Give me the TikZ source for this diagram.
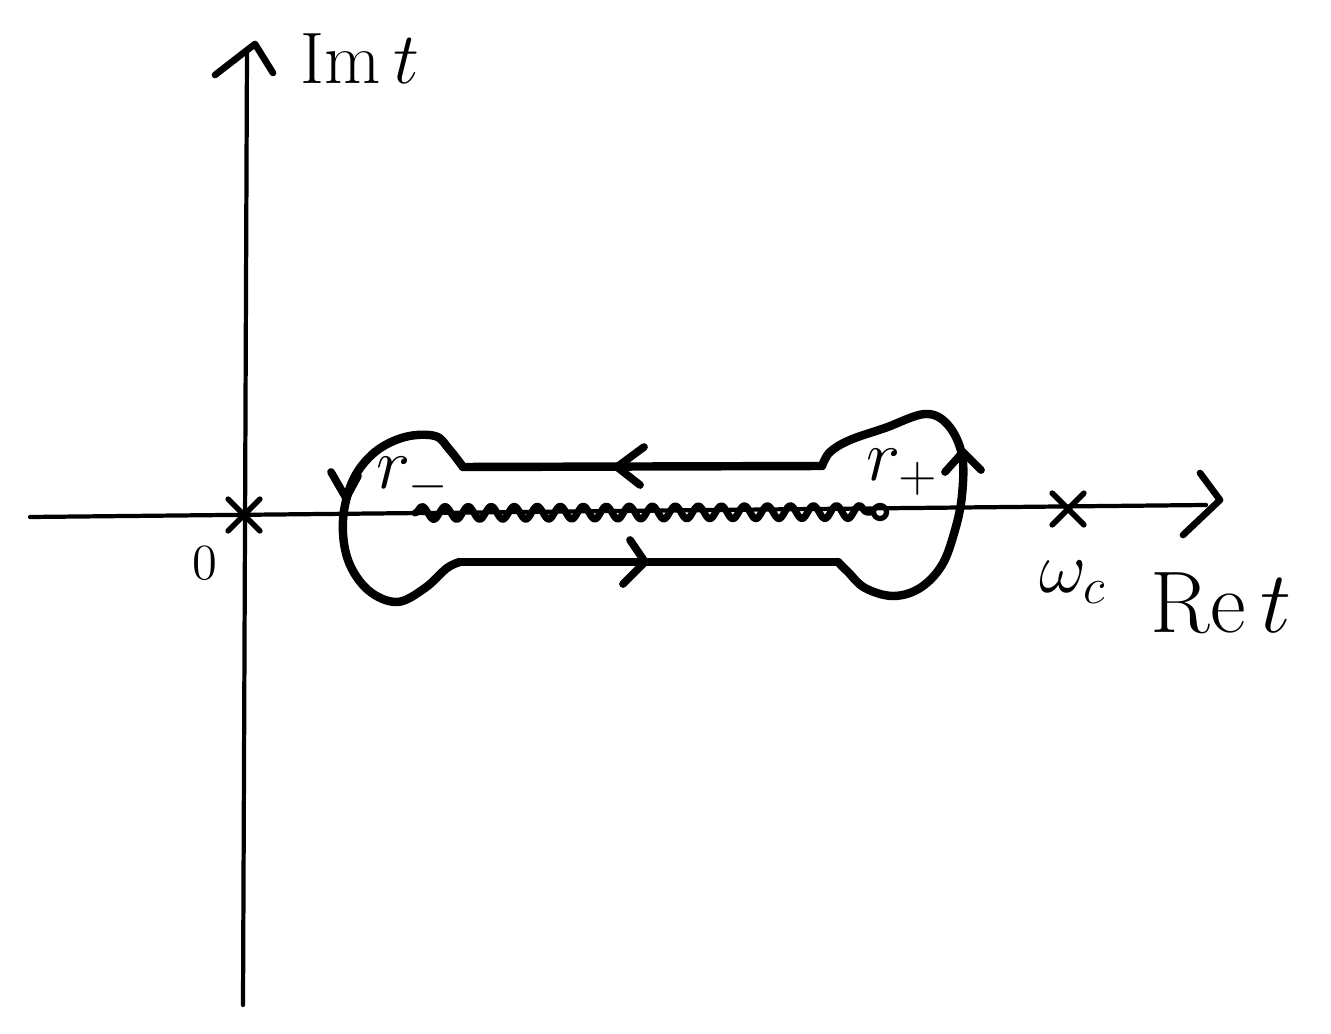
\documentclass[tikz,border=0pt]{standalone}
\usetikzlibrary{arrows.meta,positioning,calc,shapes.misc,decorations.pathmorphing}

\begin{document}
\begin{tikzpicture}[
    x=0.01cm, y=-0.01cm,
    line cap=round,
    line join=round,
    axis/.style={line width=1.2pt},
    head/.style={line width=1.9pt},
    contour/.style={line width=2.4pt},
    barb/.style={line width=2.2pt},
    cut/.style={line width=2pt, decorate,
        decoration={snake, segment length=0.23cm, amplitude=0.065cm}},
    cross/.style={cross out, draw, line width=1.6pt, minimum size=0.26cm, inner sep=0pt},
    lbl/.style={inner sep=0pt, font=\fontsize{20}{24}\selectfont}
]
\useasboundingbox (0,0) rectangle (1331,1034);

% ------------------------
% Axes
% ------------------------
\coordinate (imfoot) at (243,1005);
\coordinate (imtip) at (247,50);
\coordinate (reback) at (30,517);
\coordinate (retip) at (1206,505);

\draw[axis] (imfoot) -- (imtip);
\draw[axis] (reback) -- (retip);

% open arrow heads, drawn by hand
\draw[head] ($(imtip)+(-32,25)$) -- ($(imtip)+(8,-6)$) -- ($(imtip)+(26,23)$);
\draw[head] ($(retip)+(-6,-32)$) -- ($(retip)+(14,-5)$) -- ($(retip)+(-23,30)$);

\node[lbl, anchor=base west] (imlbl) at (300,84) {$\mathrm{Im}\,t$};
\node[lbl, anchor=base west, font=\fontsize{25}{30}\selectfont] (relbl) at (1150,632) {$\mathrm{Re}\,t$};

% ------------------------
% Marked points
% ------------------------
\node[cross] (O) at (244,515) {};
\node[cross] (wc) at (1068,509) {};
\node[lbl, font=\fontsize{15}{18}\selectfont] (zero) at (205,563) {$0$};
\node[lbl, below=0.36cm of wc, xshift=0.05cm] (wclbl) {$\omega_c$};

% ------------------------
% Branch cut
% ------------------------
\coordinate (rm) at (415,513);
\node[circle, draw, line width=1.5pt, minimum size=0.13cm, inner sep=0pt] (rp) at (880,512) {};
\draw[cut] (rm) -- (rp.west);

\node[lbl] (rmlbl) at (413,480) {$r_-$};
\node[lbl] (rplbl) at (903,472) {$r_+$};

% ------------------------
% Contour
% ------------------------
\coordinate (tl) at (463,467);
\coordinate (tr) at (822,466);
\coordinate (bl) at (460,562);
\coordinate (br) at (838,562);

\draw[contour] (tr) -- (tl);
\draw[contour] (bl) -- (br);
\draw[contour] plot[smooth, tension=0.6] coordinates {(tl) (449,449) (435,436)
    (405,437) (375,452) (353,480) (343,520) (348,560) (368,590) (397,602)
    (425,588) (447,568) (bl)};
\draw[contour] plot[smooth, tension=0.6] coordinates {(tr) (830,452) (850,440)
    (885,428) (925,414) (948,425) (962,455) (962,495) (955,530) (942,565)
    (920,588) (893,596) (865,588) (848,572) (br)};

% direction of the contour
\coordinate (atop) at (617,467);
\coordinate (abot) at (645,562);
\coordinate (aright) at (963,452);
\coordinate (aleft) at (346,498);
\draw[barb] ($(atop)+(27,-20)$) -- (atop) -- ($(atop)+(23,18)$);
\draw[barb] ($(abot)+(-15,-22)$) -- (abot) -- ($(abot)+(-22,22)$);
\draw[barb] ($(aright)+(-18,20)$) -- (aright) -- ($(aright)+(18,18)$);
\draw[barb] ($(aleft)+(-15,-26)$) -- (aleft) -- ($(aleft)+(12,-22)$);

\end{tikzpicture}
\end{document}
